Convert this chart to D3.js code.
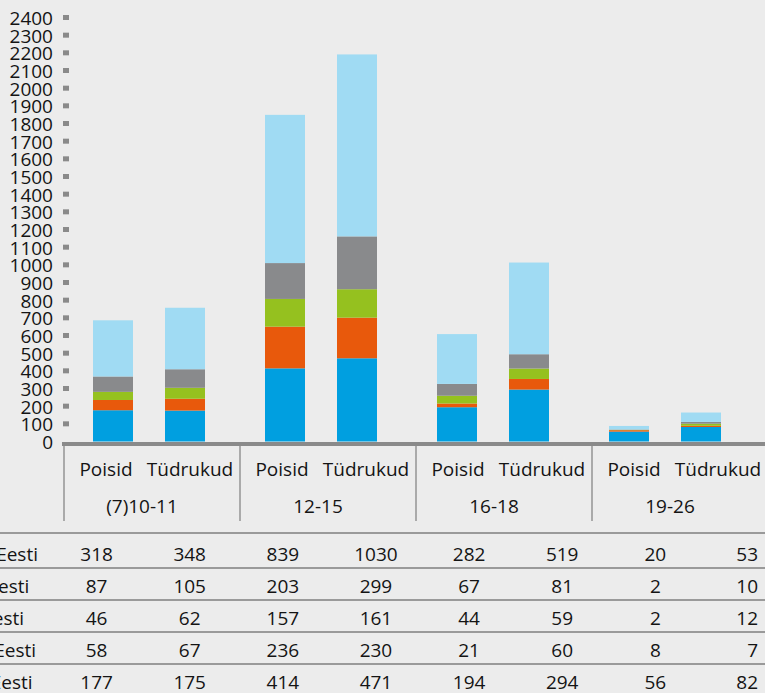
<!DOCTYPE html>
<html>
<head>
<meta charset="utf-8">
<script src="https://cdn.jsdelivr.net/npm/d3@7/dist/d3.min.js"></script>
<style>
  html, body { margin: 0; padding: 0; background: #ececec; }
  svg { display: block; font-family: "Open Sans", sans-serif; }
</style>
</head>
<body>
<svg id="chart" width="765" height="693"></svg>
<script>
// Age groups and genders along the category axis
const ageGroups = ["(7)10-11", "12-15", "16-18", "19-26"];
const genders = ["Poisid", "Tüdrukud"];

// Regions, in the order of the table rows (top to bottom)
const regions = ["Lõuna-Eesti", "Kirde-Eesti", "Kesk-Eesti", "Lääne-Eesti", "Põhja-Eesti"];

// Values per region, one per bar: (7)10-11 P/T, 12-15 P/T, 16-18 P/T, 19-26 P/T
const louna = [318, 348, 839, 1030, 282, 519, 20, 53];
const kirde = [87, 105, 203, 299, 67, 81, 2, 10];
const kesk  = [46, 62, 157, 161, 44, 59, 2, 12];
const laane = [58, 67, 236, 230, 21, 60, 8, 7];
const pohja = [177, 175, 414, 471, 194, 294, 56, 82];

const yTicks = d3.range(0, 2401, 100);

const regionValues = { "Lõuna-Eesti": louna, "Kirde-Eesti": kirde, "Kesk-Eesti": kesk, "Lääne-Eesti": laane, "Põhja-Eesti": pohja };
const regionColors = { "Lõuna-Eesti": "#a0dbf3", "Kirde-Eesti": "#898a8c", "Kesk-Eesti": "#95c11f", "Lääne-Eesti": "#e8590c", "Põhja-Eesti": "#009fe0" };

// Columns: one per (age group, gender)
const columns = [];
ageGroups.forEach(g => genders.forEach(s => columns.push({ group: g, gender: s })));
const colKey = c => c.group + "|" + c.gender;

// Rows for d3.stack: bottom series is the last table row
const stackOrder = regions.slice().reverse();
const rows = columns.map((c, i) => {
  const r = { key: colKey(c), group: c.group, gender: c.gender };
  regions.forEach(reg => { r[reg] = regionValues[reg][i]; });
  return r;
});
const series = d3.stack().keys(stackOrder)(rows);

const svg = d3.select("#chart");
const textColor = "#141414";

// Scales
const y = d3.scaleLinear().domain([0, 2400]).range([441.5, 17.5]);
const xGroup = d3.scaleBand().domain(ageGroups).range([63, 751]);
const xGender = d3.scalePoint().domain(genders).range([50, 122]);
const barWidth = 40;
const barCenter = d => xGroup(d.data.group) + xGender(d.data.gender);

// Bars
svg.append("g").selectAll("g")
  .data(series)
  .join("g")
  .attr("fill", s => regionColors[s.key])
  .selectAll("rect")
  .data(s => s)
  .join("rect")
  .attr("x", d => barCenter(d) - barWidth / 2)
  .attr("width", barWidth)
  .attr("y", d => y(d[1]))
  .attr("height", d => y(d[0]) - y(d[1]));

// Y axis: labels from d3.axisLeft, square tick markers
const yAxis = svg.append("g")
  .attr("transform", "translate(63,0)")
  .call(d3.axisLeft(y).tickValues(yTicks).tickSize(0).tickPadding(10).tickFormat(d3.format("d")));
yAxis.select(".domain").remove();
yAxis.selectAll("text")
  .attr("font-family", "'Open Sans', sans-serif")
  .attr("font-size", 19)
  .attr("fill", textColor)
  .attr("dy", "0.36em");

svg.append("g").selectAll("rect")
  .data(yTicks.filter(t => t > 0))
  .join("rect")
  .attr("x", 63)
  .attr("y", t => y(t) - 2.5)
  .attr("width", 6)
  .attr("height", 5)
  .attr("fill", "#8a8a8a");

// Baseline
svg.append("rect")
  .attr("x", 62).attr("y", y(0) + 0.5)
  .attr("width", 765 - 62).attr("height", 4)
  .attr("fill", "#8a8a8a");

// Category labels under the axis
const xLabelGroup = d3.scaleBand().domain(ageGroups).range([64, 768]);
const xLabelGender = d3.scalePoint().domain(genders).range([-46, 38]);
const labelCenter = g => xLabelGroup(g) + xLabelGroup.bandwidth() / 2;

svg.append("g").selectAll("line")
  .data(ageGroups)
  .join("line")
  .attr("x1", g => xLabelGroup(g)).attr("x2", g => xLabelGroup(g))
  .attr("y1", 446).attr("y2", 521)
  .attr("stroke", "#9a9a9a").attr("stroke-width", 1.6);

svg.append("g").selectAll("text")
  .data(columns)
  .join("text")
  .attr("x", c => labelCenter(c.group) + xLabelGender(c.gender))
  .attr("y", 476)
  .attr("text-anchor", "middle")
  .attr("font-size", 19)
  .attr("fill", textColor)
  .text(c => c.gender);

svg.append("g").selectAll("text")
  .data(ageGroups)
  .join("text")
  .attr("x", g => labelCenter(g) - 10)
  .attr("y", 513)
  .attr("text-anchor", "middle")
  .attr("font-size", 19)
  .attr("fill", textColor)
  .text(g => g);

// Data table
const xCol = d3.scaleBand().domain(columns.map(colKey)).range([50, 795]);
const rowY = d3.scaleBand().domain(regions).range([536, 696]);

const tableLines = [533].concat(regions.slice(1).map(r => rowY(r)));
svg.append("g").selectAll("line")
  .data(tableLines)
  .join("line")
  .attr("x1", 0).attr("x2", 765)
  .attr("y1", d => d).attr("y2", d => d)
  .attr("stroke", "#9a9a9a").attr("stroke-width", 2);

const rowLabels = svg.append("g").selectAll("text")
  .data(regions)
  .join("text")
  .attr("y", r => rowY(r) + 24.5)
  .attr("font-size", 19)
  .attr("fill", textColor)
  .text(r => r);
// Row labels share one left edge; the longest one ends just before the first column
let maxLen = 0;
rowLabels.each(function () { maxLen = Math.max(maxLen, this.getComputedTextLength()); });
rowLabels.attr("x", 38 - maxLen);

const cells = [];
regions.forEach(reg => columns.forEach((c, i) => cells.push({ region: reg, col: colKey(c), value: regionValues[reg][i], last: i === columns.length - 1 })));
svg.append("g").selectAll("text")
  .data(cells)
  .join("text")
  .attr("x", d => d.last ? 758 : xCol(d.col) + xCol.bandwidth() / 2)
  .attr("y", d => rowY(d.region) + 24.5)
  .attr("text-anchor", d => d.last ? "end" : "middle")
  .attr("font-size", 19)
  .attr("fill", textColor)
  .text(d => d.value);
</script>
</body>
</html>
